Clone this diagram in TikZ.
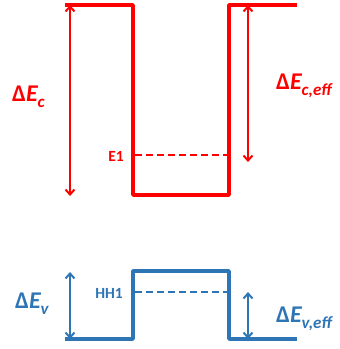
\documentclass[tikz,border=0pt]{standalone}
\usepackage{fontspec}
\setmainfont{Carlito}
\usetikzlibrary{arrows.meta}
\definecolor{bandred}{RGB}{255,0,0}
\definecolor{bandblue}{RGB}{46,117,182}
\newcommand{\bigDE}[1]{\bfseries Δ\textit{E}\kern-0.5pt\raisebox{-0.28em}{\fontsize{17}{17}\selectfont\itshape #1}}
\tikzset{
  x=1pt,y=-1pt,
  band/.style={line width=3.4pt,line join=round,line cap=butt},
  level/.style={line width=2.7pt,dash pattern=on 7pt off 4pt},
  dimarrow/.style={line width=2pt,{Straight Barb[length=5pt,width=9pt,line width=2pt]}-{Straight Barb[length=5pt,width=9pt,line width=2pt]}},
  biglabel/.style={inner sep=0pt,anchor=base west,font=\fontsize{24}{24}\selectfont},
  smalllabel/.style={inner sep=0pt,anchor=base east,font=\fontsize{15.5}{15.5}\selectfont\bfseries}
}
\begin{document}
\begin{tikzpicture}
\useasboundingbox (0,0) rectangle (340,349);
% conduction band
\draw[band,bandred] (65,5) -- (133,5) -- (133,195) -- (229,195) -- (229,5) -- (297,5);
\draw[level,bandred] (135,155) -- (227.5,155);
\coordinate (c1t) at (70,5);
\coordinate (c1b) at (70,196);
\coordinate (c2t) at (248,5);
\coordinate (c2b) at (248,162);
\draw[dimarrow,bandred] (c1t) -- (c1b);
\draw[dimarrow,bandred] (c2t) -- (c2b);
\node[biglabel,text=bandred] (dec) at (12,101) {\bigDE{c}};
\node[biglabel,text=bandred] (dece) at (276,89) {\bigDE{c,eff}};
\node[smalllabel,text=bandred] (e1) at (124,161) {E1};
% valence band
\draw[band,bandblue] (65,339) -- (133,339) -- (133,271) -- (229,271) -- (229,339) -- (297,339);
\draw[level,bandblue] (135,292) -- (227.5,292);
\coordinate (v1t) at (70,272);
\coordinate (v1b) at (70,339);
\coordinate (v2t) at (248,292);
\coordinate (v2b) at (248,339);
\draw[dimarrow,bandblue] (v1t) -- (v1b);
\draw[dimarrow,bandblue] (v2t) -- (v2b);
\node[biglabel,text=bandblue] (dev) at (15,308) {\bigDE{v}};
\node[biglabel,text=bandblue] (deve) at (276,322) {\bigDE{v,eff}};
\node[smalllabel,text=bandblue] (hh1) at (123,298) {HH1};
\end{tikzpicture}
\end{document}
